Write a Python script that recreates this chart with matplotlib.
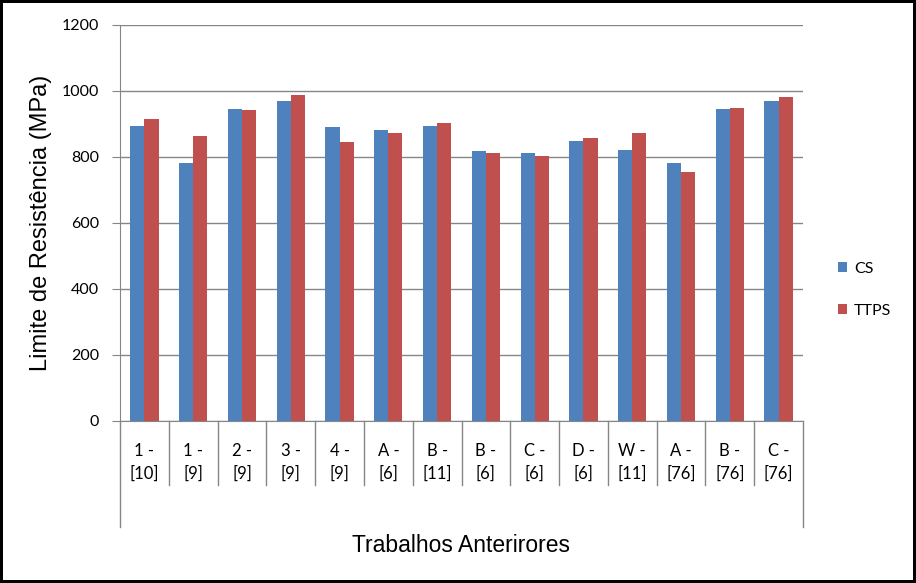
import numpy as np
import matplotlib
matplotlib.use("Agg")
import matplotlib.pyplot as plt
from matplotlib.transforms import blended_transform_factory

# data
categories = ["1 -\n[10]", "1 -\n[9]", "2 -\n[9]", "3 -\n[9]", "4 -\n[9]", "A -\n[6]", "B -\n[11]",
              "B -\n[6]", "C -\n[6]", "D -\n[6]", "W -\n[11]", "A -\n[76]", "B -\n[76]", "C -\n[76]"]
cs = [892, 780, 943, 968, 888, 880, 892, 816, 812, 846, 819, 780, 943, 967]
ttps = [915, 862, 940, 985, 843, 870, 903, 812, 803, 855, 870, 752, 948, 980]

blue = "#4F81BD"
red = "#C0504D"
grid_c = "#868686"
tick_font = ["Lato", "DejaVu Sans"]

fig = plt.figure(figsize=(9.16, 5.83), dpi=100)
fig.patch.set_edgecolor("black")
fig.patch.set_linewidth(3)
ax = fig.add_axes([120 / 916, 1 - 420.5 / 583, (803 - 120) / 916, (420.5 - 24.5) / 583])

x = np.arange(len(categories))
w = 0.29
ax.bar(x - w / 2, cs, w, color=blue, label="CS", zorder=3)
ax.bar(x + w / 2, ttps, w, color=red, label="TTPS", zorder=3)

ax.set_xlim(-0.5, len(categories) - 0.5)
ax.set_ylim(0, 1200)
ax.set_yticks(range(0, 1201, 200))
ax.yaxis.grid(True, color=grid_c, linewidth=1, zorder=0)
for s in ["top", "right"]:
    ax.spines[s].set_visible(False)
ax.spines["left"].set_color(grid_c)
ax.spines["bottom"].set_color(grid_c)
ax.tick_params(axis="y", length=6, color=grid_c, pad=9, labelsize=11.5)
for lab in ax.get_yticklabels():
    lab.set_family(tick_font)

ax.set_xticks(x)
ax.set_xticklabels(categories, family=tick_font, fontsize=12, linespacing=1.55)
ax.tick_params(axis="x", length=0, pad=16)

# category separators below the axis
trans = blended_transform_factory(ax.transData, ax.transAxes)
n = len(categories)
for b in np.arange(-0.5, n, 1.0):
    low = -0.2677 if b in (-0.5, n - 0.5) else -0.164
    ax.plot([b, b], [0, low], transform=trans, color=grid_c, linewidth=1, clip_on=False)

ax.set_ylabel("Limite de Resistência (MPa)", family=["Liberation Sans", "DejaVu Sans"], fontsize=17, labelpad=7)
fig.text((120 + 803) / 2 / 916, 1 - 545 / 583, "Trabalhos Anterirores", ha="center", va="center",
         family=["Liberation Sans Narrow", "Liberation Sans", "DejaVu Sans"], fontsize=16.5)

leg = ax.legend(loc="center left", bbox_to_anchor=(1.03, 0.33), frameon=False, handlelength=0.6,
                handleheight=0.6, handletextpad=0.4, labelspacing=1.75, prop={"family": tick_font, "size": 11.5})

fig.savefig("out.png", dpi=100, edgecolor=fig.get_edgecolor())
